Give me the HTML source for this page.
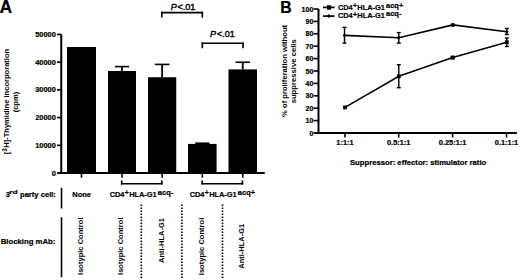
<!DOCTYPE html>
<html><head><meta charset="utf-8"><style>
html,body{margin:0;padding:0;background:#fff;width:520px;height:280px;overflow:hidden}
svg{display:block}
text{font-family:"Liberation Sans", sans-serif;fill:#000;stroke:#000;stroke-width:0.22px}
</style></head><body>
<svg width="520" height="280" viewBox="0 0 520 280">
<rect width="520" height="280" fill="#fff"/>
<text x="-0.40" y="13.10" text-anchor="start" font-size="17.6" font-weight="bold" >A</text>
<line x1="61.25" y1="34.40" x2="61.25" y2="174.00" stroke="#000" stroke-width="2" />
<line x1="57.00" y1="173.10" x2="61.25" y2="173.10" stroke="#000" stroke-width="1.6" />
<text x="55.80" y="175.70" text-anchor="end" font-size="7.4" font-weight="bold" >0</text>
<line x1="57.00" y1="145.36" x2="61.25" y2="145.36" stroke="#000" stroke-width="1.6" />
<text x="55.80" y="147.96" text-anchor="end" font-size="7.4" font-weight="bold" >10000</text>
<line x1="57.00" y1="117.62" x2="61.25" y2="117.62" stroke="#000" stroke-width="1.6" />
<text x="55.80" y="120.22" text-anchor="end" font-size="7.4" font-weight="bold" >20000</text>
<line x1="57.00" y1="89.88" x2="61.25" y2="89.88" stroke="#000" stroke-width="1.6" />
<text x="55.80" y="92.48" text-anchor="end" font-size="7.4" font-weight="bold" >30000</text>
<line x1="57.00" y1="62.14" x2="61.25" y2="62.14" stroke="#000" stroke-width="1.6" />
<text x="55.80" y="64.74" text-anchor="end" font-size="7.4" font-weight="bold" >40000</text>
<line x1="57.00" y1="34.40" x2="61.25" y2="34.40" stroke="#000" stroke-width="1.6" />
<text x="55.80" y="37.00" text-anchor="end" font-size="7.4" font-weight="bold" >50000</text>
<line x1="57.50" y1="173.10" x2="264.75" y2="173.10" stroke="#000" stroke-width="2" />
<rect x="67.00" y="47.00" width="29.00" height="126.10" fill="#000"/>
<line x1="81.50" y1="173.00" x2="81.50" y2="177.70" stroke="#000" stroke-width="1.6" />
<rect x="108.00" y="71.00" width="28.00" height="102.10" fill="#000"/>
<line x1="122.00" y1="173.00" x2="122.00" y2="177.70" stroke="#000" stroke-width="1.6" />
<rect x="148.00" y="77.25" width="28.25" height="95.85" fill="#000"/>
<line x1="162.12" y1="173.00" x2="162.12" y2="177.70" stroke="#000" stroke-width="1.6" />
<rect x="188.00" y="143.90" width="28.60" height="29.20" fill="#000"/>
<line x1="202.30" y1="173.00" x2="202.30" y2="177.70" stroke="#000" stroke-width="1.6" />
<rect x="228.50" y="69.40" width="28.50" height="103.70" fill="#000"/>
<line x1="242.75" y1="173.00" x2="242.75" y2="177.70" stroke="#000" stroke-width="1.6" />
<line x1="122.00" y1="66.60" x2="122.00" y2="71.00" stroke="#000" stroke-width="1.8" />
<line x1="114.90" y1="66.60" x2="129.10" y2="66.60" stroke="#000" stroke-width="1.6" />
<line x1="162.12" y1="64.40" x2="162.12" y2="77.25" stroke="#000" stroke-width="1.8" />
<line x1="154.82" y1="64.40" x2="169.43" y2="64.40" stroke="#000" stroke-width="1.6" />
<line x1="242.75" y1="62.25" x2="242.75" y2="69.40" stroke="#000" stroke-width="1.8" />
<line x1="235.55" y1="62.25" x2="249.95" y2="62.25" stroke="#000" stroke-width="1.6" />
<line x1="202.30" y1="143.20" x2="202.30" y2="143.90" stroke="#000" stroke-width="1.8" />
<line x1="195.20" y1="143.20" x2="209.40" y2="143.20" stroke="#000" stroke-width="1.6" />
<line x1="121.70" y1="180.40" x2="121.70" y2="184.60" stroke="#000" stroke-width="1.6" />
<line x1="161.80" y1="180.40" x2="161.80" y2="184.60" stroke="#000" stroke-width="1.6" />
<line x1="120.90" y1="183.80" x2="162.60" y2="183.80" stroke="#000" stroke-width="1.6" />
<line x1="202.20" y1="180.40" x2="202.20" y2="184.60" stroke="#000" stroke-width="1.6" />
<line x1="242.40" y1="180.40" x2="242.40" y2="184.60" stroke="#000" stroke-width="1.6" />
<line x1="201.40" y1="183.80" x2="243.20" y2="183.80" stroke="#000" stroke-width="1.6" />
<line x1="161.80" y1="11.80" x2="161.80" y2="17.60" stroke="#000" stroke-width="1.6" />
<line x1="202.30" y1="11.80" x2="202.30" y2="17.60" stroke="#000" stroke-width="1.6" />
<line x1="161.00" y1="12.60" x2="203.10" y2="12.60" stroke="#000" stroke-width="1.6" />
<text x="170.70" y="9.60" font-size="9.0" font-weight="normal" style="stroke-width:0.4px"><tspan font-style="italic">P</tspan><tspan dx="0.9">&lt;.01</tspan></text>
<line x1="202.30" y1="42.40" x2="202.30" y2="48.20" stroke="#000" stroke-width="1.6" />
<line x1="242.95" y1="42.40" x2="242.95" y2="48.20" stroke="#000" stroke-width="1.6" />
<line x1="201.50" y1="43.20" x2="243.75" y2="43.20" stroke="#000" stroke-width="1.6" />
<text x="210.10" y="37.40" font-size="9.0" font-weight="normal" style="stroke-width:0.4px"><tspan font-style="italic">P</tspan><tspan dx="0.9">&lt;.01</tspan></text>
<text x="5.83" y="196.90" text-anchor="start" font-size="7.6" font-weight="bold" >3</text>
<text x="9.34" y="194.20" font-size="6.0" font-weight="bold" textLength="8.46" lengthAdjust="spacingAndGlyphs">rd</text>
<text x="20.00" y="196.90" text-anchor="start" font-size="7.6" font-weight="bold" >party cell:</text>
<line x1="61.50" y1="187.75" x2="61.50" y2="208.50" stroke="#000" stroke-width="1.6" />
<text x="81.60" y="197.00" text-anchor="middle" font-size="7.5" font-weight="bold" >None</text>
<text x="109.70" y="196.90" text-anchor="start" font-size="7.4" font-weight="bold" >CD4<tspan dx="0.3" dy="-1.8" font-size="6.8" letter-spacing="0.4">+</tspan><tspan dy="1.8">HLA-G1</tspan></text>
<text x="157.88" y="194.70" font-size="6.6" font-weight="bold" textLength="15.33" lengthAdjust="spacingAndGlyphs">acq-</text>
<text x="189.70" y="196.90" text-anchor="start" font-size="7.4" font-weight="bold" >CD4<tspan dx="0.3" dy="-1.8" font-size="6.8" letter-spacing="0.4">+</tspan><tspan dy="1.8">HLA-G1</tspan></text>
<text x="237.88" y="194.70" font-size="6.6" font-weight="bold" textLength="17.21" lengthAdjust="spacingAndGlyphs">acq+</text>
<line x1="61.50" y1="217.25" x2="61.50" y2="277.25" stroke="#000" stroke-width="1.6" />
<text x="55.40" y="244.40" text-anchor="end" font-size="7.75" font-weight="bold" >Blocking mAb:</text>
<line x1="141.30" y1="204.50" x2="141.30" y2="278.50" stroke="#000" stroke-width="1.6" stroke-dasharray="1.5 1.5"/>
<line x1="181.90" y1="204.50" x2="181.90" y2="278.50" stroke="#000" stroke-width="1.6" stroke-dasharray="1.5 1.5"/>
<line x1="222.50" y1="204.50" x2="222.50" y2="278.50" stroke="#000" stroke-width="1.6" stroke-dasharray="1.5 1.5"/>
<text transform="translate(83.00,217.50) rotate(-90)" text-anchor="end" font-size="7.55" font-weight="bold" style="stroke-width:0px">Isotypic Control</text>
<text transform="translate(122.90,217.50) rotate(-90)" text-anchor="end" font-size="7.55" font-weight="bold" style="stroke-width:0px">Isotypic Control</text>
<text transform="translate(163.50,218.00) rotate(-90)" text-anchor="end" font-size="7.5" font-weight="bold" style="stroke-width:0px">Anti-HLA-G1</text>
<text transform="translate(204.00,217.75) rotate(-90)" text-anchor="end" font-size="7.55" font-weight="bold" style="stroke-width:0px">Isotypic Control</text>
<text transform="translate(244.40,223.75) rotate(-90)" text-anchor="end" font-size="7.5" font-weight="bold" style="stroke-width:0px">Anti-HLA-G1</text>
<text transform="translate(9.10,101.60) rotate(-90)" text-anchor="middle" font-size="7.55" font-weight="bold" style="stroke-width:0px">[<tspan dx="0" dy="-2.6" font-size="6.4" letter-spacing="0.5">3</tspan><tspan dy="2.6">H]-Thymidine incorporation</tspan></text>
<text transform="translate(18.00,102.10) rotate(-90)" text-anchor="middle" font-size="7.55" font-weight="bold" style="stroke-width:0px">(cpm)</text>
<text x="280.20" y="12.75" text-anchor="start" font-size="15.8" font-weight="bold" >B</text>
<line x1="318.50" y1="9.00" x2="318.50" y2="134.00" stroke="#000" stroke-width="2" />
<line x1="313.50" y1="133.00" x2="318.50" y2="133.00" stroke="#000" stroke-width="1.6" />
<text x="313.30" y="135.50" text-anchor="end" font-size="7" font-weight="bold" >0</text>
<line x1="313.50" y1="120.60" x2="318.50" y2="120.60" stroke="#000" stroke-width="1.6" />
<text x="313.30" y="123.10" text-anchor="end" font-size="7" font-weight="bold" >10</text>
<line x1="313.50" y1="108.20" x2="318.50" y2="108.20" stroke="#000" stroke-width="1.6" />
<text x="313.30" y="110.70" text-anchor="end" font-size="7" font-weight="bold" >20</text>
<line x1="313.50" y1="95.80" x2="318.50" y2="95.80" stroke="#000" stroke-width="1.6" />
<text x="313.30" y="98.30" text-anchor="end" font-size="7" font-weight="bold" >30</text>
<line x1="313.50" y1="83.40" x2="318.50" y2="83.40" stroke="#000" stroke-width="1.6" />
<text x="313.30" y="85.90" text-anchor="end" font-size="7" font-weight="bold" >40</text>
<line x1="313.50" y1="71.00" x2="318.50" y2="71.00" stroke="#000" stroke-width="1.6" />
<text x="313.30" y="73.50" text-anchor="end" font-size="7" font-weight="bold" >50</text>
<line x1="313.50" y1="58.60" x2="318.50" y2="58.60" stroke="#000" stroke-width="1.6" />
<text x="313.30" y="61.10" text-anchor="end" font-size="7" font-weight="bold" >60</text>
<line x1="313.50" y1="46.20" x2="318.50" y2="46.20" stroke="#000" stroke-width="1.6" />
<text x="313.30" y="48.70" text-anchor="end" font-size="7" font-weight="bold" >70</text>
<line x1="313.50" y1="33.80" x2="318.50" y2="33.80" stroke="#000" stroke-width="1.6" />
<text x="313.30" y="36.30" text-anchor="end" font-size="7" font-weight="bold" >80</text>
<line x1="313.50" y1="21.40" x2="318.50" y2="21.40" stroke="#000" stroke-width="1.6" />
<text x="313.30" y="23.90" text-anchor="end" font-size="7" font-weight="bold" >90</text>
<line x1="313.50" y1="9.00" x2="318.50" y2="9.00" stroke="#000" stroke-width="1.6" />
<text x="313.30" y="11.50" text-anchor="end" font-size="7" font-weight="bold" >100</text>
<line x1="314.40" y1="133.00" x2="516.90" y2="133.00" stroke="#000" stroke-width="2" />
<line x1="345.00" y1="133.00" x2="345.00" y2="137.50" stroke="#000" stroke-width="1.6" />
<text x="345.00" y="145.00" text-anchor="middle" font-size="7.4" font-weight="bold" >1:1:1</text>
<line x1="398.70" y1="133.00" x2="398.70" y2="137.50" stroke="#000" stroke-width="1.6" />
<text x="398.70" y="145.00" text-anchor="middle" font-size="7.4" font-weight="bold" >0.5:1:1</text>
<line x1="452.60" y1="133.00" x2="452.60" y2="137.50" stroke="#000" stroke-width="1.6" />
<text x="452.60" y="145.00" text-anchor="middle" font-size="7.4" font-weight="bold" >0.25:1:1</text>
<line x1="506.50" y1="133.00" x2="506.50" y2="137.50" stroke="#000" stroke-width="1.6" />
<text x="506.50" y="145.00" text-anchor="middle" font-size="7.4" font-weight="bold" >0.1:1:1</text>
<text x="418.10" y="164.60" text-anchor="middle" font-size="7.7" font-weight="bold" >Suppressor: effector: stimulator ratio</text>
<text transform="translate(287.30,70.90) rotate(-90)" text-anchor="middle" font-size="7.65" font-weight="bold" style="stroke-width:0px">% of proliferation without</text>
<text transform="translate(296.00,71.30) rotate(-90)" text-anchor="middle" font-size="7.7" font-weight="bold" style="stroke-width:0px">suppressive cells</text>
<path d="M345,107.4 L398.8,76.3 L452.7,57.6 L506.8,42.2" fill="none" stroke="#000" stroke-width="1.6"/>
<rect x="343.10" y="105.50" width="3.80" height="3.80" fill="#000"/>
<line x1="398.80" y1="64.70" x2="398.80" y2="87.70" stroke="#000" stroke-width="1.4" />
<line x1="396.80" y1="64.70" x2="400.80" y2="64.70" stroke="#000" stroke-width="1.4" />
<line x1="396.80" y1="87.70" x2="400.80" y2="87.70" stroke="#000" stroke-width="1.4" />
<rect x="396.90" y="74.40" width="3.80" height="3.80" fill="#000"/>
<line x1="452.70" y1="56.50" x2="452.70" y2="58.70" stroke="#000" stroke-width="1.4" />
<line x1="450.70" y1="56.50" x2="454.70" y2="56.50" stroke="#000" stroke-width="1.4" />
<line x1="450.70" y1="58.70" x2="454.70" y2="58.70" stroke="#000" stroke-width="1.4" />
<rect x="450.80" y="55.70" width="3.80" height="3.80" fill="#000"/>
<line x1="506.80" y1="38.00" x2="506.80" y2="46.50" stroke="#000" stroke-width="1.4" />
<line x1="504.80" y1="38.00" x2="508.80" y2="38.00" stroke="#000" stroke-width="1.4" />
<line x1="504.80" y1="46.50" x2="508.80" y2="46.50" stroke="#000" stroke-width="1.4" />
<rect x="504.90" y="40.30" width="3.80" height="3.80" fill="#000"/>
<path d="M344.5,35.4 L398.8,37.7 L452.9,24.9 L506.8,31.8" fill="none" stroke="#000" stroke-width="1.6"/>
<line x1="344.50" y1="27.40" x2="344.50" y2="43.10" stroke="#000" stroke-width="1.4" />
<line x1="342.50" y1="27.40" x2="346.50" y2="27.40" stroke="#000" stroke-width="1.4" />
<line x1="342.50" y1="43.10" x2="346.50" y2="43.10" stroke="#000" stroke-width="1.4" />
<path d="M342.60,35.40 L344.50,33.50 L346.40,35.40 L344.50,37.30 Z" fill="#000"/>
<line x1="398.80" y1="32.60" x2="398.80" y2="43.10" stroke="#000" stroke-width="1.4" />
<line x1="396.80" y1="32.60" x2="400.80" y2="32.60" stroke="#000" stroke-width="1.4" />
<line x1="396.80" y1="43.10" x2="400.80" y2="43.10" stroke="#000" stroke-width="1.4" />
<path d="M396.90,37.70 L398.80,35.80 L400.70,37.70 L398.80,39.60 Z" fill="#000"/>
<line x1="452.90" y1="24.00" x2="452.90" y2="26.00" stroke="#000" stroke-width="1.4" />
<line x1="450.90" y1="24.00" x2="454.90" y2="24.00" stroke="#000" stroke-width="1.4" />
<line x1="450.90" y1="26.00" x2="454.90" y2="26.00" stroke="#000" stroke-width="1.4" />
<path d="M451.00,24.90 L452.90,23.00 L454.80,24.90 L452.90,26.80 Z" fill="#000"/>
<line x1="506.80" y1="28.50" x2="506.80" y2="34.50" stroke="#000" stroke-width="1.4" />
<line x1="504.80" y1="28.50" x2="508.80" y2="28.50" stroke="#000" stroke-width="1.4" />
<line x1="504.80" y1="34.50" x2="508.80" y2="34.50" stroke="#000" stroke-width="1.4" />
<path d="M504.90,31.80 L506.80,29.90 L508.70,31.80 L506.80,33.70 Z" fill="#000"/>
<line x1="323.00" y1="7.40" x2="334.60" y2="7.40" stroke="#000" stroke-width="1.7" />
<rect x="326.90" y="5.20" width="4.10" height="4.50" fill="#000"/>
<line x1="323.00" y1="16.10" x2="334.60" y2="16.10" stroke="#000" stroke-width="1.7" />
<path d="M326.80,16.10 L328.90,14.10 L331.00,16.10 L328.90,18.10 Z" fill="#000"/>
<text x="337.90" y="9.70" text-anchor="start" font-size="7.4" font-weight="bold" >CD4<tspan dx="0.3" dy="-1.8" font-size="6.8" letter-spacing="0.4">+</tspan><tspan dy="1.8">HLA-G1</tspan></text>
<text x="386.08" y="7.50" font-size="6.6" font-weight="bold" textLength="17.21" lengthAdjust="spacingAndGlyphs">acq+</text>
<text x="337.90" y="18.40" text-anchor="start" font-size="7.4" font-weight="bold" >CD4<tspan dx="0.3" dy="-1.8" font-size="6.8" letter-spacing="0.4">+</tspan><tspan dy="1.8">HLA-G1</tspan></text>
<text x="386.08" y="16.20" font-size="6.6" font-weight="bold" textLength="15.33" lengthAdjust="spacingAndGlyphs">acq-</text>
</svg>
</body></html>
